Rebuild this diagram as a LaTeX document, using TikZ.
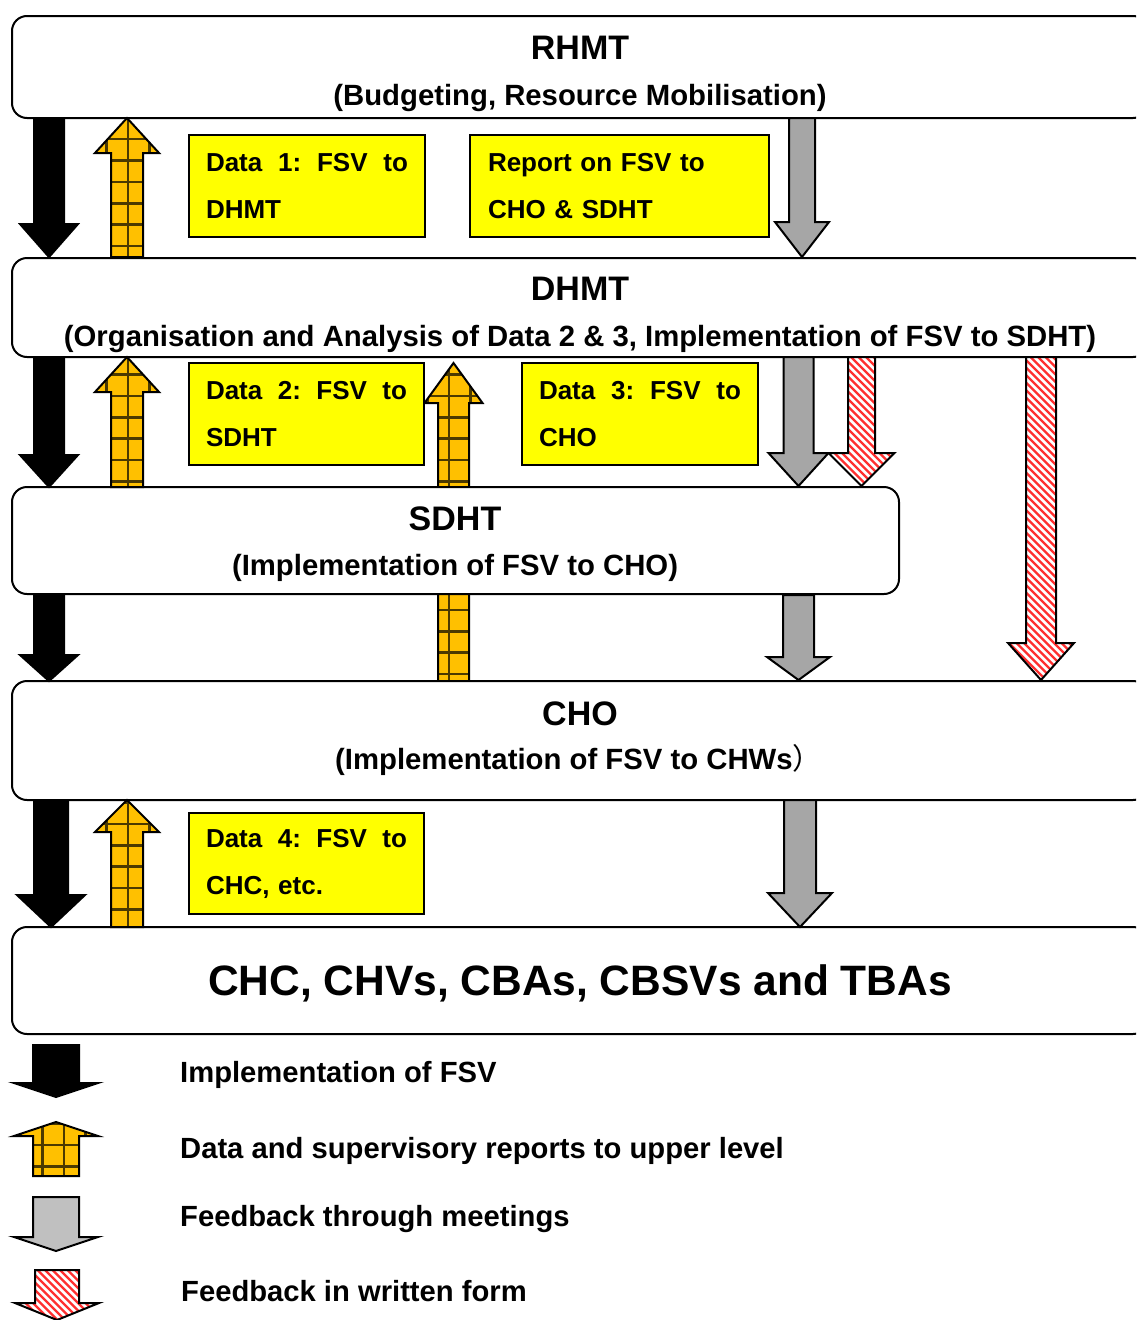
\documentclass[tikz,border=0pt]{standalone}
\usepackage{fontspec}
\setmainfont{Liberation Sans}
\newfontfamily\cjk{Noto Sans CJK SC}
\definecolor{orng}{HTML}{FFC000}
\definecolor{gry}{HTML}{A6A6A6}
\definecolor{lgry}{HTML}{C0C0C0}
\definecolor{ylw}{HTML}{FFFF00}
\definecolor{hatchred}{HTML}{FF3030}
\tikzset{
  outl/.style={line width=2pt, line join=miter, draw=black},
  gridl/.style={line width=2.6pt, draw=black!70!orng},
  hatchl/.style={line width=2.2pt, draw=hatchred},
  box/.style={draw, line width=2pt, rounded corners=15pt, fill=white, inner sep=0pt},
  ybox/.style={draw, line width=1.6pt, fill=ylw, inner sep=0pt, align=left,
    font=\fontsize{26}{47}\selectfont\bfseries},
  head/.style={font=\fontsize{34}{40}\selectfont\bfseries},
  sub/.style={font=\fontsize{29.3}{34}\selectfont\bfseries},
  leg/.style={anchor=west, inner sep=0pt, font=\fontsize{29.2}{34}\selectfont\bfseries}
}
\newcommand\arrpath[6]{({#1-#2},#4) -- ({#1+#2},#4) -- ({#1+#2},#5) -- ({#1+#3},#5) -- (#1,#6) -- ({#1-#3},#5) -- ({#1-#2},#5) -- cycle}
\newcommand\blkarrow[6]{\filldraw[outl,fill=black] \arrpath{#1}{#2}{#3}{#4}{#5}{#6};}
\newcommand\gryarrow[7]{\filldraw[outl,fill=#7] \arrpath{#1}{#2}{#3}{#4}{#5}{#6};}
\newcommand\orarrow[6]{%
  \begin{scope}
    \clip \arrpath{#1}{#2}{#3}{#4}{#5}{#6};
    \fill[orng] ({#1-#3},#6) rectangle ({#1+#3},#4);
    \pgfmathtruncatemacro\kmin{floor((#1-#3-128)/21.4)}%
    \pgfmathtruncatemacro\kmax{ceil((#1+#3-128)/21.4)}%
    \foreach \k in {\kmin,...,\kmax} \draw[gridl] ({128+\k*21.4},#6) -- ({128+\k*21.4},#4);
    \pgfmathtruncatemacro\jmin{floor((#6-10.7)/21.4)}%
    \pgfmathtruncatemacro\jmax{ceil((#4-10.7)/21.4)}%
    \foreach \j in {\jmin,...,\jmax} \draw[gridl] ({#1-#3},{10.7+\j*21.4}) -- ({#1+#3},{10.7+\j*21.4});
  \end{scope}
  \draw[outl] \arrpath{#1}{#2}{#3}{#4}{#5}{#6};}
\newcommand\redarrow[6]{%
  \begin{scope}
    \clip \arrpath{#1}{#2}{#3}{#4}{#5}{#6};
    \fill[white] ({#1-#3},#4) rectangle ({#1+#3},#6);
    \pgfmathtruncatemacro\nmin{-(#6-#4)/7.5-2}%
    \pgfmathtruncatemacro\nmax{2*#3/7.5+2}%
    \foreach \n in {\nmin,...,\nmax} \draw[hatchl] ({#1-#3+\n*7.5},#4) -- ++({#6-#4},{#6-#4});
  \end{scope}
  \draw[outl] \arrpath{#1}{#2}{#3}{#4}{#5}{#6};}
\begin{document}
\begin{tikzpicture}[x=1pt,y=-1pt]
\useasboundingbox (0,0) rectangle (1136,1320);
\clip (0,0) rectangle (1136,1320);

% long orange arrow behind SDHT
\orarrow{453.5}{15.5}{29}{681}{403}{363}

% level boxes
\node[box, minimum width=1136pt, minimum height=102pt] (rhmt) at (580,67) {};
\node[box, minimum width=1136pt, minimum height=99pt] (dhmt) at (580,307.5) {};
\node[box, minimum width=887pt, minimum height=107pt] (sdht) at (455.5,540.5) {};
\node[box, minimum width=1136pt, minimum height=119pt] (cho) at (580,740.5) {};
\node[box, minimum width=1136pt, minimum height=107pt] (chc) at (580,980.5) {};

\node[head] (rhmtT) at (580,48) {RHMT};
\node[sub] (rhmtS) at (580,97.5) {(Budgeting, Resource Mobilisation)};
\node[head] (dhmtT) at (580,289) {DHMT};
\node[sub] (dhmtS) at (580,338.5) {(Organisation and Analysis of Data 2 \& 3, Implementation of FSV to SDHT)};
\node[head] (sdhtT) at (455,519) {SDHT};
\node[sub] (sdhtS) at (455,567.5) {(Implementation of FSV to CHO)};
\node[head] (choT) at (580,714) {CHO};
\node[sub, anchor=west, inner sep=0pt] (choS) at (335,760) {(Implementation of FSV to CHWs{\cjk\mdseries ）}};
\node[font=\fontsize{42.5}{50}\selectfont\bfseries] (chcT) at (580,983) {CHC, CHVs, CBAs, CBSVs and TBAs};

% yellow boxes
\node[ybox, minimum width=236pt, minimum height=102pt, text width=202pt] (d1) at (307,186)
  {\leavevmode\hbox to\hsize{Data\hfill 1:\hfill FSV\hfill to}\\DHMT};
\node[ybox, minimum width=299pt, minimum height=102pt, text width=263pt] (rep) at (619.5,186)
  {Report on FSV to\\CHO \& SDHT};
\node[ybox, minimum width=235pt, minimum height=102pt, text width=201pt] (d2) at (306.5,414)
  {\leavevmode\hbox to\hsize{Data\hfill 2:\hfill FSV\hfill to}\\SDHT};
\node[ybox, minimum width=236pt, minimum height=102pt, text width=202pt] (d3) at (640,414)
  {\leavevmode\hbox to\hsize{Data\hfill 3:\hfill FSV\hfill to}\\CHO};
\node[ybox, minimum width=235pt, minimum height=101pt, text width=201pt] (d4) at (306.5,863.5)
  {\leavevmode\hbox to\hsize{Data\hfill 4:\hfill FSV\hfill to}\\CHC, etc.};

% RHMT -> DHMT
\blkarrow{49}{15}{29}{118}{224}{257}
\orarrow{127}{16}{32}{257}{153}{118}
\gryarrow{802}{13}{27}{118}{222}{257}{gry}

% DHMT -> SDHT
\blkarrow{49}{15}{29}{357}{455}{487}
\orarrow{127}{16}{32}{487}{392}{357}
\gryarrow{798.5}{15}{30}{357}{453}{486}{gry}
\redarrow{861.5}{13.5}{33}{357}{453}{486}
\redarrow{1041}{15}{33}{357}{643}{680}

% SDHT -> CHO
\blkarrow{49}{15}{29}{594}{655}{681}
\gryarrow{798.5}{15.5}{31.5}{595}{657}{680}{gry}

% CHO -> CHC
\blkarrow{51}{17}{34}{800}{895}{927}
\orarrow{127}{16}{32}{927}{832}{800}
\gryarrow{800}{16}{32}{800}{893}{927}{gry}

% legend
\blkarrow{56}{23}{42}{1045}{1083}{1097}
\orarrow{56}{23}{42}{1176}{1136}{1122}
\gryarrow{56}{23}{42}{1197}{1237}{1251}{lgry}
\redarrow{57}{22}{42}{1270}{1303}{1320}

\node[leg] (l1) at (180,1075) {Implementation of FSV};
\node[leg] (l2) at (180,1151) {Data and supervisory reports to upper level};
\node[leg] (l3) at (180,1219) {Feedback through meetings};
\node[leg] (l4) at (181,1291) {Feedback in written form};
\end{tikzpicture}
\end{document}
